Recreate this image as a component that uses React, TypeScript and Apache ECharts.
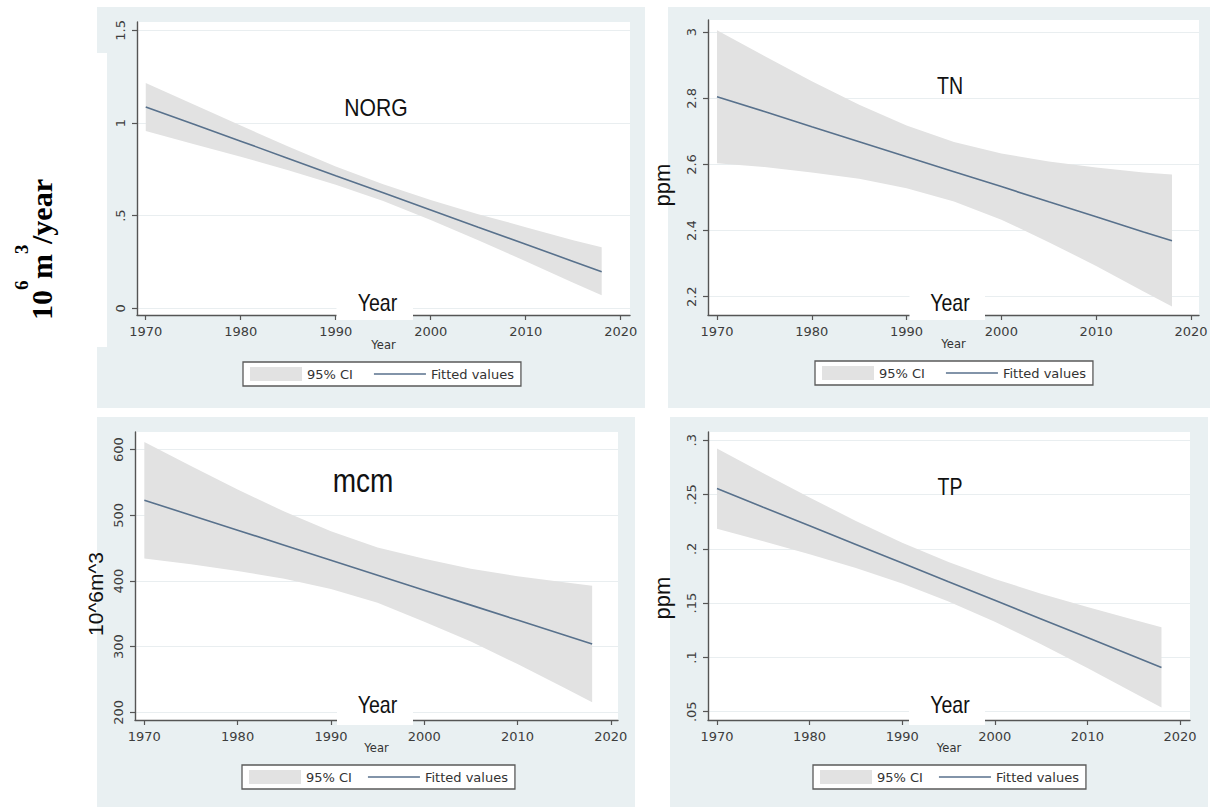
import React, { useEffect, useRef } from 'react';
import * as echarts from 'echarts';

// ---------- data ----------
const YEARS = [1970, 1975, 1980, 1985, 1990, 1995, 2000, 2005, 2010, 2015, 2018];
const X_TICKS = [1970, 1980, 1990, 2000, 2010, 2020];

const NORG_FIT = [1.087, 0.994, 0.902, 0.809, 0.716, 0.624, 0.531, 0.438, 0.346, 0.253, 0.197];
const NORG_LO = [0.957, 0.887, 0.818, 0.745, 0.667, 0.579, 0.477, 0.368, 0.254, 0.138, 0.07];
const NORG_HI = [1.216, 1.101, 0.986, 0.873, 0.765, 0.669, 0.585, 0.508, 0.438, 0.368, 0.33];
const NORG_Y_TICKS = [0, 0.5, 1, 1.5];
const NORG_Y_LABELS = ['0', '.5', '1', '1.5'];

const TN_FIT = [2.805, 2.76, 2.714, 2.669, 2.623, 2.578, 2.533, 2.487, 2.442, 2.396, 2.369];
const TN_LO = [2.604, 2.592, 2.576, 2.557, 2.528, 2.488, 2.433, 2.365, 2.293, 2.216, 2.17];
const TN_HI = [3.006, 2.928, 2.852, 2.781, 2.718, 2.668, 2.633, 2.609, 2.591, 2.576, 2.57];
const TN_Y_TICKS = [2.2, 2.4, 2.6, 2.8, 3];
const TN_Y_LABELS = ['2.2', '2.4', '2.6', '2.8', '3'];

const MCM_FIT = [523, 500.2, 477.4, 454.6, 431.8, 408.9, 386.1, 363.3, 340.5, 317.7, 304];
const MCM_LO = [434.3, 425.4, 415.4, 403.4, 387.8, 366.8, 338.1, 308.1, 273.6, 237.4, 215.3];
const MCM_HI = [611.7, 575.0, 539.4, 505.8, 475.8, 451.0, 434.1, 418.5, 407.4, 398.0, 392.7];
const MCM_Y_TICKS = [200, 300, 400, 500, 600];
const MCM_Y_LABELS = ['200', '300', '400', '500', '600'];

const TP_FIT = [0.2555, 0.2383, 0.2212, 0.204, 0.1869, 0.1697, 0.1526, 0.1354, 0.1183, 0.1011, 0.0908];
const TP_LO = [0.2185, 0.207, 0.1951, 0.1823, 0.1681, 0.1516, 0.1329, 0.1121, 0.0902, 0.0676, 0.0538];
const TP_HI = [0.2925, 0.2696, 0.2473, 0.2257, 0.2057, 0.1878, 0.1723, 0.1587, 0.1464, 0.1346, 0.1278];
const TP_Y_TICKS = [0.05, 0.1, 0.15, 0.2, 0.25, 0.3];
const TP_Y_LABELS = ['.05', '.1', '.15', '.2', '.25', '.3'];

const CI_NAME = '95% CI';
const FIT_NAME = 'Fitted values';
const X_NAME = 'Year';

// ---------- styles ----------
const BAND = '#e2e2e2';
const LINE = '#58718c';
const PANEL_BG = '#e9f0f2';
const AXIS = '#555555';
const GRIDLINE = '#e9eef0';
const TICK_FONT = 'DejaVu Sans';
const SANS = 'Liberation Sans, Arial';
const SERIF = 'Liberation Serif, Times New Roman';

const PANELS = [
  {
    title: 'NORG', fit: NORG_FIT, lo: NORG_LO, hi: NORG_HI, yTicks: NORG_Y_TICKS, yLabels: NORG_Y_LABELS,
    grid: { left: 137, top: 22, width: 493, height: 293 },
    xMin: 1969.08, xMax: 2020.98, yMin: -0.036, yMax: 1.545,
    bg: [97, 7, 548, 401], legend: [243, 362], itemGap: 21, nameGap: 24,
    titlePos: [376, 108], titleSize: 23, titleScale: 0.92,
    yearBox: [336.5, 284, 76.5, 36], yearText: [377.5, 303],
    yName: null as null | { text: string; x: number; y: number; size: number },
  },
  {
    title: 'TN', fit: TN_FIT, lo: TN_LO, hi: TN_HI, yTicks: TN_Y_TICKS, yLabels: TN_Y_LABELS,
    grid: { left: 708, top: 20, width: 491, height: 295 },
    xMin: 1969.05, xMax: 2020.85, yMin: 2.1446, yMax: 3.037,
    bg: [668, 7, 542, 401], legend: [815, 361], itemGap: 21, nameGap: 23,
    titlePos: [950, 86.5], titleSize: 23, titleScale: 0.85,
    yearBox: [909.5, 284, 75.5, 36], yearText: [950, 303],
    yName: { text: 'ppm', x: 662, y: 185, size: 22 },
  },
  {
    title: 'mcm', fit: MCM_FIT, lo: MCM_LO, hi: MCM_HI, yTicks: MCM_Y_TICKS, yLabels: MCM_Y_LABELS,
    grid: { left: 135, top: 432, width: 483, height: 288 },
    xMin: 1969.0, xMax: 2020.77, yMin: 188.4, yMax: 626.9,
    bg: [97, 417, 538, 390], legend: [242, 765], itemGap: 16, nameGap: 22,
    titlePos: [363, 480.5], titleSize: 33, titleScale: 0.85,
    yearBox: [337, 689, 76, 36], yearText: [377.5, 705],
    yName: { text: '10^6m^3', x: 95, y: 594, size: 21 },
  },
  {
    title: 'TP', fit: TP_FIT, lo: TP_LO, hi: TP_HI, yTicks: TP_Y_TICKS, yLabels: TP_Y_LABELS,
    grid: { left: 708, top: 432, width: 482, height: 288 },
    xMin: 1969.03, xMax: 2021.08, yMin: 0.0424, yMax: 0.3076,
    bg: [670, 417, 538, 390], legend: [813, 765], itemGap: 16, nameGap: 22,
    titlePos: [950, 487.5], titleSize: 23, titleScale: 0.85,
    yearBox: [909, 689, 76, 36], yearText: [950, 705],
    yName: { text: 'ppm', x: 662, y: 598, size: 22 },
  },
];

// pieces of the outer rotated label "10^6 m^3/year" (reading bottom to top)
const OUTER_LABEL = [
  { text: '10', start: 320, x: 41, size: 30 },
  { text: '6', start: 290, x: 21, size: 19 },
  { text: 'm', start: 279, x: 41, size: 30 },
  { text: '3', start: 254, x: 21, size: 19 },
  { text: '/year', start: 244, x: 41, size: 30 },
];

function labelFor(ticks: number[], labels: string[]) {
  return (v: number) => {
    const k = ticks.findIndex((t) => Math.abs(t - v) < 1e-6);
    return k >= 0 ? labels[k] : '';
  };
}

function buildOption() {
  const graphic: any[] = [];
  PANELS.forEach((p) => {
    graphic.push({
      type: 'rect', z: -10, silent: true,
      shape: { x: p.bg[0], y: p.bg[1], width: p.bg[2], height: p.bg[3] },
      style: { fill: PANEL_BG },
    });
  });
  // white box behind the outer y label
  graphic.push({
    type: 'rect', z: -5, silent: true,
    shape: { x: 0, y: 53, width: 107, height: 294 },
    style: { fill: '#ffffff' },
  });
  OUTER_LABEL.forEach((t) => {
    graphic.push({
      type: 'text', x: t.x, y: t.start, rotation: Math.PI / 2, z: 60, silent: true,
      style: {
        text: t.text, fontFamily: SERIF, fontWeight: 'bold', fontSize: t.size, fill: '#000',
        align: 'left', verticalAlign: 'middle', textAlign: 'left', textVerticalAlign: 'middle',
      },
    });
  });
  PANELS.forEach((p) => {
    graphic.push({
      type: 'rect', z: 100, silent: true,
      shape: { x: p.yearBox[0], y: p.yearBox[1], width: p.yearBox[2], height: p.yearBox[3] },
      style: { fill: '#ffffff' },
    });
    graphic.push({
      type: 'text', x: p.yearText[0], y: p.yearText[1], scaleX: 0.85, z: 101, silent: true,
      style: {
        text: X_NAME, fontFamily: SANS, fontSize: 23, fill: '#111',
        align: 'center', verticalAlign: 'middle', textAlign: 'center', textVerticalAlign: 'middle',
      },
    });
    graphic.push({
      type: 'text', x: p.titlePos[0], y: p.titlePos[1], scaleX: p.titleScale, z: 101, silent: true,
      style: {
        text: p.title, fontFamily: SANS, fontSize: p.titleSize, fill: '#111',
        align: 'center', verticalAlign: 'middle', textAlign: 'center', textVerticalAlign: 'middle',
      },
    });
    if (p.yName) {
      graphic.push({
        type: 'text', x: p.yName.x, y: p.yName.y, rotation: Math.PI / 2, z: 101, silent: true,
        style: {
          text: p.yName.text, fontFamily: SANS, fontSize: p.yName.size, fill: '#111',
          align: 'center', verticalAlign: 'middle', textAlign: 'center', textVerticalAlign: 'middle',
        },
      });
    }
  });

  const series: any[] = [];
  PANELS.forEach((p, i) => {
    series.push({
      type: 'custom', name: CI_NAME, xAxisIndex: i, yAxisIndex: i, z: 2,
      data: YEARS.map((yr, k) => [yr, p.lo[k], p.hi[k]]),
      encode: { x: 0, y: [1, 2] },
      itemStyle: { color: BAND },
      silent: true,
      renderItem: (params: any, api: any) => {
        if (params.dataIndex !== 0) return null;
        const upper = YEARS.map((yr, k) => api.coord([yr, p.hi[k]]));
        const lower = YEARS.map((yr, k) => api.coord([yr, p.lo[k]])).reverse();
        return {
          type: 'polygon',
          shape: { points: upper.concat(lower) },
          style: { fill: BAND, stroke: null },
        };
      },
    });
    series.push({
      type: 'line', name: FIT_NAME, xAxisIndex: i, yAxisIndex: i, z: 3,
      data: YEARS.map((yr, k) => [yr, p.fit[k]]),
      symbol: 'none', showSymbol: false, silent: true,
      lineStyle: { color: LINE, width: 1.6 },
      itemStyle: { color: LINE },
    });
  });

  return {
    animation: false,
    backgroundColor: '#ffffff',
    grid: PANELS.map((p) => ({
      ...p.grid, show: true, backgroundColor: '#ffffff', borderWidth: 0,
      containLabel: false, outerBoundsMode: 'none',
    })),
    xAxis: PANELS.map((p, i) => ({
      type: 'value', gridIndex: i, min: p.xMin, max: p.xMax,
      name: X_NAME, nameLocation: 'middle', nameGap: p.nameGap, nameMoveOverlap: false,
      nameTextStyle: { fontFamily: TICK_FONT, fontSize: 11.5, color: '#333' },
      axisLine: { show: true, onZero: false, lineStyle: { color: AXIS, width: 1.4 } },
      axisTick: { show: true, length: 5, customValues: X_TICKS, lineStyle: { color: AXIS, width: 1.2 } },
      axisLabel: {
        show: true, customValues: X_TICKS, margin: 10,
        formatter: (v: number) => String(Math.round(v)),
        fontFamily: TICK_FONT, fontSize: 13, color: '#3d3d3d',
      },
      splitLine: { show: false },
    })),
    yAxis: PANELS.map((p, i) => ({
      type: 'value', gridIndex: i, min: p.yMin, max: p.yMax,
      axisLine: { show: true, onZero: false, lineStyle: { color: AXIS, width: 1.4 } },
      axisTick: { show: true, length: 5, customValues: p.yTicks, lineStyle: { color: AXIS, width: 1.2 } },
      axisLabel: {
        show: true, customValues: p.yTicks, rotate: 90, margin: 10,
        formatter: labelFor(p.yTicks, p.yLabels),
        fontFamily: TICK_FONT, fontSize: 13, color: '#3d3d3d',
      },
      splitLine: { show: true, lineStyle: { color: GRIDLINE, width: 1 } },
    })),
    legend: PANELS.map((p) => ({
      left: p.legend[0], top: p.legend[1], orient: 'horizontal',
      selectedMode: false, symbolKeepAspect: true,
      backgroundColor: '#ffffff', borderColor: '#5a5a5a', borderWidth: 1.3, borderRadius: 0,
      padding: [5, 7, 5, 7], itemGap: p.itemGap, itemWidth: 52, itemHeight: 14,
      textStyle: { fontFamily: TICK_FONT, fontSize: 13, color: '#333' },
      data: [
        { name: CI_NAME, icon: 'rect', itemStyle: { color: BAND } },
        { name: FIT_NAME, icon: 'path://M0,0 L52,0 L52,1.6 L0,1.6 Z', itemStyle: { color: LINE } },
      ],
    })),
    graphic,
    series,
  };
}

export default function App() {
  const ref = useRef<HTMLDivElement>(null);
  useEffect(() => {
    const el = ref.current;
    if (!el) return;
    const chart = echarts.init(el, null, { renderer: 'svg', width: 1214, height: 807 });
    chart.setOption(buildOption() as any);
    return () => chart.dispose();
  }, []);
  return (
    <div
      ref={ref}
      style={{ position: 'fixed', left: 0, top: 0, width: 1214, height: 807, background: '#ffffff' }}
    />
  );
}
